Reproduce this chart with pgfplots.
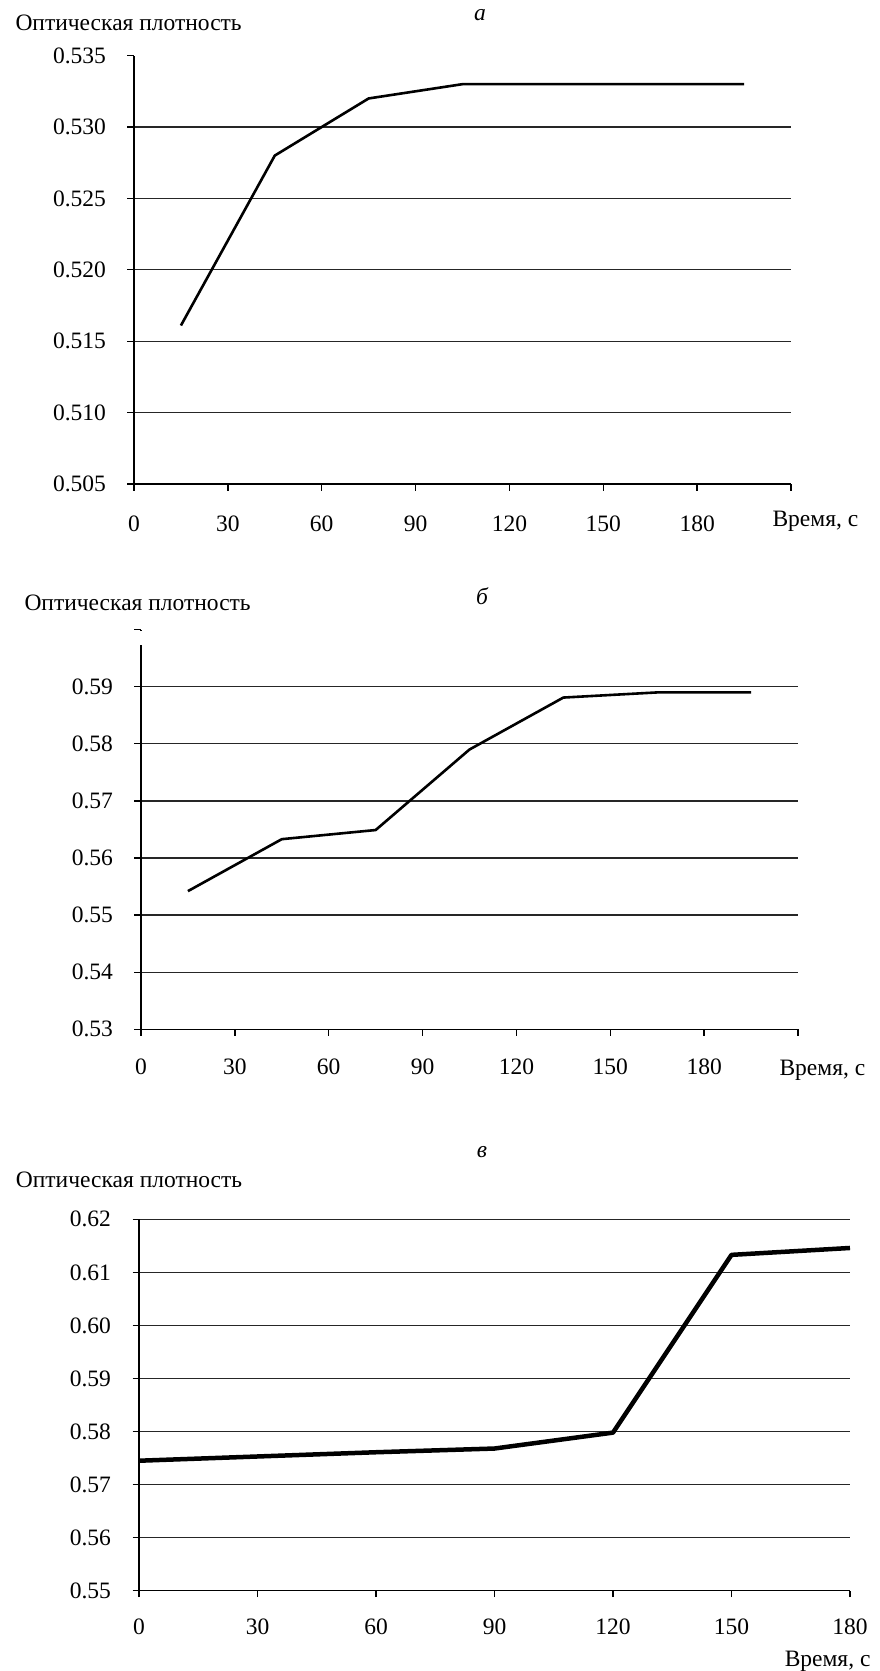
\documentclass[border=0pt]{standalone}
\usepackage{pgfplots}
\pgfplotsset{compat=1.18}
\usepackage{fontspec}
\setmainfont{Liberation Serif}
\begin{document}
\begin{tikzpicture}[font=\fontsize{23.5}{28}\selectfont]
\useasboundingbox (0,0) rectangle (879pt,-1671pt);
\pgfplotsset{
  mystyle/.style={
    scale only axis,
    axis lines=left,
    axis line style={-, line width=1.3pt, black},
    tick align=outside,
    major tick length=6.5pt,
    tick style={line width=1.3pt, black},
    ymajorgrids,
    grid style={line width=1.3pt, black!85},
    extra tick style={grid=none},
    clip=false,
    yticklabel style={xshift=-18pt},
    ylabel style={rotate=-90, at={(axis description cs:0,1)}, anchor=base west},
    title style={at={(axis description cs:0,1)}, anchor=base, font=\fontsize{23.5}{28}\selectfont\itshape},
  },
}
% ---------- a ----------
\begin{axis}[mystyle,
  at={(134pt,-484pt)}, anchor=south west,
  width=657pt, height=428.4pt,
  xmin=0, xmax=210, ymin=0.505, ymax=0.535,
  xtick={0,30,60,90,120,150,180,210},
  xticklabels={0,30,60,90,120,150,180,{}},
  xticklabel style={yshift=-21.5pt},
  ytick={0.505,0.510,0.515,0.520,0.525,0.530},
  yticklabels={0.505,0.510,0.515,0.520,0.525,0.530},
  extra y ticks={0.535}, extra y tick labels={0.535},
  title={а}, title style={xshift=346pt, yshift=29.6pt},
  ylabel={Оптическая плотность}, ylabel style={xshift=-122pt, yshift=24.9pt},
  xlabel={Время, с}, xlabel style={at={(axis description cs:1,0)}, anchor=base west, xshift=-22pt, yshift=-42.7pt},
]
\addplot[black, line width=2.6pt, line join=round] coordinates {
(15,0.5161) (45,0.5280) (75,0.5320) (105,0.5330) (135,0.5330) (165,0.5330) (195,0.5330)
};
\end{axis}
% ---------- b ----------
\begin{axis}[mystyle,
  at={(141pt,-1029.3pt)}, anchor=south west,
  width=657pt, height=399.7pt,
  xmin=0, xmax=210, ymin=0.53, ymax=0.60,
  xtick={0,30,60,90,120,150,180,210},
  xticklabels={0,30,60,90,120,150,180,{}},
  xticklabel style={yshift=-19.5pt},
  y axis line style={dash pattern=on 384pt off 15pt on 1pt},
  ytick={0.53,0.54,0.55,0.56,0.57,0.58,0.59},
  yticklabels={0.53,0.54,0.55,0.56,0.57,0.58,0.59},
  extra y ticks={0.60}, extra y tick labels={},
  title={б}, title style={xshift=341pt, yshift=19.6pt},
  ylabel={Оптическая плотность}, ylabel style={xshift=-120pt, yshift=19.6pt},
  xlabel={Время, с}, xlabel style={at={(axis description cs:1,0)}, anchor=base west, xshift=-22pt, yshift=-45.7pt},
]
\addplot[black, line width=2.6pt, line join=round] coordinates {
(15,0.5542) (45,0.5633) (75,0.5649) (105,0.5790) (135,0.5881) (165,0.5890) (195,0.5890)
};
\end{axis}
% ---------- c ----------
\begin{axis}[mystyle,
  at={(139pt,-1590.7pt)}, anchor=south west,
  width=711pt, height=371.4pt,
  xmin=0, xmax=180, ymin=0.55, ymax=0.62,
  xtick={0,30,60,90,120,150,180},
  xticklabels={0,30,60,90,120,150,180},
  xticklabel style={yshift=-18.5pt},
  ytick={0.55,0.56,0.57,0.58,0.59,0.60,0.61,0.62},
  yticklabels={0.55,0.56,0.57,0.58,0.59,0.60,0.61,0.62},
  title={в}, title style={xshift=343pt, yshift=56.3pt},
  ylabel={Оптическая плотность}, ylabel style={xshift=-126.6pt, yshift=32.3pt},
  xlabel={Время, с}, xlabel style={at={(axis description cs:1,0)}, anchor=base east, xshift=24pt, yshift=-75.3pt},
]
\addplot[black, line width=4.5pt, line join=round] coordinates {
(0,0.5745) (30,0.5753) (60,0.5761) (90,0.5768) (120,0.5798) (150,0.6133) (180,0.6146)
};
\end{axis}
\end{tikzpicture}
\end{document}
